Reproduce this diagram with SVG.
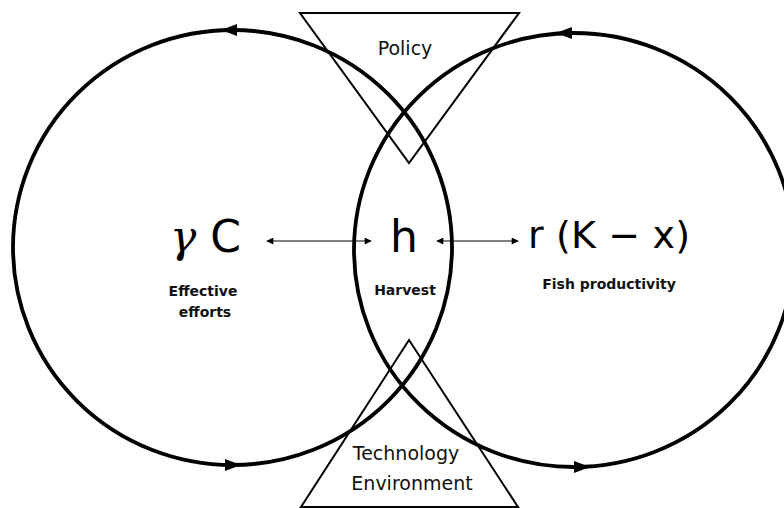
<svg xmlns="http://www.w3.org/2000/svg" width="784" height="508" viewBox="0 0 784 508">
<style>
.loop{fill:none;stroke:#000;stroke-width:3.8}
.tri{fill:none;stroke:#000;stroke-width:2}
.head{fill:#000}
.link{stroke:#000;stroke-width:1.2;fill:none;marker-start:url(#ah);marker-end:url(#ah)}
.big{font-family:"DejaVu Sans",Verdana,sans-serif;fill:#000}
.lbl{font-family:"DejaVu Sans",Verdana,sans-serif;font-weight:bold;font-size:14px;fill:#111;text-anchor:middle}
.tl{font-family:"DejaVu Sans",Verdana,sans-serif;font-size:19px;fill:#111;text-anchor:middle}
</style>
<defs>
<marker id="ah" viewBox="0 0 10 10" refX="9" refY="5" markerWidth="9" markerHeight="7" markerUnits="userSpaceOnUse" orient="auto-start-reverse">
<path d="M0,0 L10,5 L0,10 z" fill="#000"/>
</marker>
</defs>
<rect width="784" height="508" fill="#fff"/>
<g id="loop-effort">
<ellipse class="loop" cx="232.5" cy="247.5" rx="219.5" ry="217.5"/>
<polygon class="head" points="221,30 237,24 237,36"/>
<polygon class="head" points="241,465 225,459 225,471"/>
</g>
<g id="loop-fish">
<ellipse class="loop" cx="574" cy="250" rx="220" ry="217"/>
<polygon class="head" points="556,33 572,27 572,39"/>
<polygon class="head" points="590,467 574,461 574,473"/>
</g>
<g id="policy">
<polygon class="tri" points="300,13 519,13 409,163"/>
<text class="tl" x="405" y="55" font-size="20">Policy</text>
</g>
<g id="technology">
<polygon class="tri" points="409,340 518,507 301,507"/>
<text class="tl" x="406" y="460">Technology</text>
<text class="tl" x="412" y="490">Environment</text>
</g>
<g id="effort">
<text class="big" x="170" y="252" font-size="44"><tspan font-family="'DejaVu Serif',serif" font-style="italic">γ</tspan> C</text>
<text class="lbl" x="203" y="296">Effective</text>
<text class="lbl" x="205" y="317">efforts</text>
</g>
<g id="harvest">
<text class="big" x="404" y="252" font-size="44" text-anchor="middle">h</text>
<text class="lbl" x="405" y="295">Harvest</text>
</g>
<g id="fish">
<text class="big" x="528" y="248" font-size="38" textLength="162" lengthAdjust="spacing">r (K − x)</text>
<text class="lbl" x="609" y="289">Fish productivity</text>
</g>
<g id="connectors">
<line class="link" x1="267" y1="241" x2="371" y2="241"/>
<line class="link" x1="437" y1="241" x2="518" y2="241"/>
</g>
</svg>
